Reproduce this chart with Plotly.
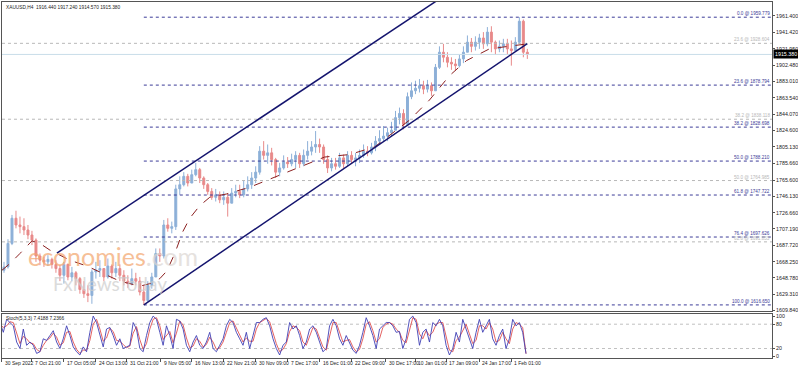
import plotly.graph_objects as go

# ---------------- DATA ----------------
header_text = "XAUUSD,H4  1916.440 1917.240 1914.570 1915.380"
stoch_text = "Stoch(5,3,3) 7.4188 7.2366"

first_open = 1658
close = [1662,1690,1720,1712,1710,1706,1700,1694,1675,1670,
         1668,1671,1665,1660,1652,1665,1650,1655,1648,1635,
         1630,1628,1656,1658,1660,1650,1663,1655,1660,1652,
         1645,1642,1648,1645,1632,1622,1640,1650,1678,1675,
         1712,1708,1710,1755,1760,1770,1762,1772,1778,1768,
         1760,1752,1745,1748,1742,1745,1738,1750,1752,1748,
         1755,1760,1768,1775,1800,1795,1798,1790,1775,1780,
         1787,1785,1790,1795,1785,1795,1800,1805,1808,1805,
         1790,1780,1785,1782,1792,1785,1795,1790,1792,1795,
         1800,1798,1805,1812,1815,1818,1822,1825,1840,1845,
         1832,1865,1872,1875,1878,1874,1878,1872,1900,1918,
         1912,1906,1904,1902,1910,1918,1930,1925,1930,1935,
         1928,1942,1930,1922,1925,1928,1922,1920,1930,1955,
         1918,1915.38]
high = [1668,1695,1724,1729,1722,1720,1712,1705,1696,1678,
        1674,1676,1673,1670,1664,1668,1666,1662,1657,1650,
        1645,1640,1659,1668,1670,1660,1672,1665,1668,1665,
        1658,1652,1660,1655,1650,1640,1645,1655,1684,1684,
        1718,1720,1716,1760,1770,1775,1773,1778,1786,1780,
        1770,1762,1756,1755,1752,1752,1750,1756,1760,1760,
        1765,1770,1775,1782,1806,1812,1808,1804,1792,1786,
        1795,1793,1797,1800,1798,1802,1812,1812,1824,1815,
        1808,1795,1792,1792,1798,1796,1800,1800,1798,1802,
        1808,1806,1810,1818,1825,1830,1828,1835,1848,1852,
        1850,1870,1882,1884,1886,1884,1885,1882,1904,1925,
        1928,1918,1912,1910,1915,1925,1938,1935,1937,1940,
        1942,1948,1949,1932,1932,1934,1934,1932,1936,1959.78,
        1957,1922]
low = [1655,1660,1688,1708,1702,1700,1695,1688,1668,1664,
       1662,1663,1660,1655,1645,1642,1646,1645,1640,1630,
       1625,1620,1618,1648,1650,1645,1648,1648,1650,1645,
       1640,1637,1640,1640,1628,1616.65,1620,1636,1650,1668,
       1672,1704,1702,1706,1748,1758,1758,1762,1770,1762,
       1755,1748,1742,1740,1738,1736,1722,1738,1745,1744,
       1745,1752,1755,1762,1772,1790,1785,1783,1768,1770,
       1778,1780,1782,1780,1780,1782,1790,1795,1798,1798,
       1785,1774,1776,1778,1780,1780,1782,1785,1782,1786,
       1792,1794,1796,1800,1808,1812,1812,1818,1825,1832,
       1826,1830,1862,1868,1870,1868,1870,1866,1872,1898,
       1906,1900,1897,1896,1900,1905,1918,1918,1920,1922,
       1922,1925,1918,1915,1918,1918,1915,1902,1920,1928,
       1912,1910]

ma_bar = [0,8,18,30,38,48,58,68,85,98,118,138,148,158,165,173,181,188,198,208,
          225,248,273,298,323,348,373,398,408,428,448,465,488,526]
ma_val = [1658,1666,1678,1693,1690,1682,1676,1670,1663,1656,1645,1639,1642,1648,
          1657,1678,1704,1720,1735,1745,1749,1757,1769,1781,1793,1796,1805,1828,
          1837,1861,1890,1908,1922,1928]

stoch_main = [84,60,92,84,76,36,20,68,28,36,
              28,8,12,44,40,52,64,36,20,44,
              76,52,24,12,4,24,12,60,100,84,
              52,24,68,72,52,28,44,20,24,28,
              84,68,20,12,52,84,100,92,60,28,
              76,52,20,92,88,68,28,12,36,52,
              28,20,36,60,20,12,28,44,76,92,
              84,60,44,28,60,20,52,84,84,92,
              96,76,44,20,4,28,36,84,68,76,
              52,20,36,68,76,60,36,12,20,76,
              92,76,44,28,52,32,16,8,28,60,
              96,76,52,20,68,76,84,84,76,60,
              62,20,44,92,100,84,28,60,68,36,
              84,76,92,76,28,4,20,60,36,92,
              68,44,20,60,92,60,76,92,44,28,
              52,68,20,44,92,76,84,60,7.4188]
stoch_signal = [80,72,76,86,84,60,32,50,44,34,
                32,18,12,28,40,46,58,48,28,34,
                60,62,36,18,8,16,16,40,80,92,
                68,38,46,70,62,40,38,30,22,26,
                58,74,42,18,32,68,92,96,76,42,
                52,62,34,58,88,78,46,22,26,44,
                38,24,30,48,36,18,22,36,60,84,
                88,72,52,36,46,38,38,68,84,88,
                94,86,58,32,12,18,32,62,76,72,
                64,36,28,52,72,68,48,24,16,48,
                84,84,60,36,40,42,24,12,18,44,
                80,86,64,36,44,72,80,84,80,68,
                60,40,34,68,96,92,56,44,64,52,
                60,80,84,84,52,16,12,40,48,64,
                80,56,32,40,76,76,68,84,68,36,
                40,60,44,32,68,84,80,72,7.2366]

fib_levels = ["0.0", "23.6", "38.2", "50.0", "61.8", "76.4", "100.0"]
fib_prices = [1959.779, 1878.794, 1828.698, 1788.210, 1747.722, 1697.626, 1616.650]
old_fib_levels = ["23.6", "38.2", "50.0", "61.8"]
old_fib_prices = [1928.604, 1838.118, 1764.985, 1691.853]
fib_start_bar = 142

chan_low_bar = [142, 526]
chan_low_price = [1616.65, 1928.4]
chan_up_bar = [55, 526]
chan_up_price = [1678.3, 2051.2]

price_ticks = [1609.840, 1629.310, 1648.780, 1668.250, 1687.720, 1707.190, 1726.660,
               1746.130, 1765.600, 1785.660, 1805.130, 1824.600, 1844.070, 1863.540,
               1883.010, 1902.480, 1921.950, 1941.420, 1961.400]
last_price = 1915.38

time_labels = ["30 Sep 2022", "7 Oct 21:00", "17 Oct 05:00", "24 Oct 13:00", "31 Oct 21:00",
               "9 Nov 05:00", "16 Nov 13:00", "22 Nov 21:00", "30 Nov 09:00", "7 Dec 17:00",
               "16 Dec 01:00", "22 Dec 09:00", "30 Dec 17:00", "10 Jan 01:00", "17 Jan 09:00",
               "24 Jan 17:00", "1 Feb 01:00"]
time_bars = [0, 30, 62, 94, 125, 159, 190, 222, 254, 286, 318, 350, 384, 414, 445, 478, 510]

# ---------------- STYLE / LAYOUT ----------------
W, H = 798, 372
X_RANGE = [0, 771]
BAR_STEP = 4
STOCH_STEP = 10 / 3
UP = "#8db0d8"
DN = "#e88a8a"
NAVY = "#14146e"
FIBC = "#3c3c98"
GREYC = "#b8b8b8"
AXC = "#555555"
TXT = "#222222"
FONT = "Liberation Sans, Arial"

cx = [2 + BAR_STEP * i for i in range(len(close))]
opens = [first_open] + close[:-1]
sx = [STOCH_STEP * j - 2 for j in range(len(stoch_main))]

fig = go.Figure()

for lv, pr in zip(old_fib_levels, old_fib_prices):
    fig.add_trace(go.Scatter(x=[X_RANGE[0], X_RANGE[1]], y=[pr, pr], mode="lines",
                             line=dict(color=GREYC, width=1, dash="dot"),
                             hoverinfo="skip", showlegend=False, xaxis="x", yaxis="y"))
for lv, pr in zip(fib_levels, fib_prices):
    fig.add_trace(go.Scatter(x=[fib_start_bar, X_RANGE[1]], y=[pr, pr], mode="lines",
                             line=dict(color=FIBC, width=1, dash="dot"),
                             hoverinfo="skip", showlegend=False, xaxis="x", yaxis="y"))
fig.add_trace(go.Scatter(x=[X_RANGE[0], X_RANGE[1]], y=[last_price, last_price], mode="lines",
                         line=dict(color="#c8dde9", width=1),
                         hoverinfo="skip", showlegend=False, xaxis="x", yaxis="y"))

fig.add_trace(go.Candlestick(x=cx, open=opens, high=high, low=low, close=close,
                             increasing=dict(line=dict(color=UP, width=1), fillcolor=UP),
                             decreasing=dict(line=dict(color=DN, width=1), fillcolor=DN),
                             whiskerwidth=0, hoverinfo="skip", showlegend=False,
                             xaxis="x", yaxis="y"))

fig.add_trace(go.Scatter(x=ma_bar, y=ma_val, mode="lines",
                         line=dict(color="#8b2020", width=1, dash="dash"),
                         hoverinfo="skip", showlegend=False, xaxis="x", yaxis="y"))

fig.add_trace(go.Scatter(x=chan_low_bar, y=chan_low_price, mode="lines",
                         line=dict(color=NAVY, width=1.5), hoverinfo="skip",
                         showlegend=False, xaxis="x", yaxis="y"))
fig.add_trace(go.Scatter(x=chan_up_bar, y=chan_up_price, mode="lines",
                         line=dict(color=NAVY, width=1.5), hoverinfo="skip",
                         showlegend=False, xaxis="x", yaxis="y"))

for lvl in (20, 80):
    fig.add_trace(go.Scatter(x=[X_RANGE[0], X_RANGE[1]], y=[lvl, lvl], mode="lines",
                             line=dict(color="#c0c0c0", width=1, dash="dot"),
                             hoverinfo="skip", showlegend=False, xaxis="x2", yaxis="y2"))
fig.add_trace(go.Scatter(x=sx, y=stoch_signal, mode="lines",
                         line=dict(color="#e05050", width=0.9),
                         hoverinfo="skip", showlegend=False, xaxis="x2", yaxis="y2"))
fig.add_trace(go.Scatter(x=sx, y=stoch_main, mode="lines",
                         line=dict(color="#4040b4", width=0.9),
                         hoverinfo="skip", showlegend=False, xaxis="x2", yaxis="y2"))

def px_to_paper_x(p):
    return p / W

def px_to_paper_y(p):
    return 1 - p / H

xdom = [px_to_paper_x(2), px_to_paper_x(773)]
main_dom = [px_to_paper_y(313), px_to_paper_y(1)]
stoch_dom = [px_to_paper_y(361), px_to_paper_y(316)]

ann = []
ann.append(dict(text=header_text, x=px_to_paper_x(4), y=px_to_paper_y(2), xref="paper", yref="paper",
                xanchor="left", yanchor="top", showarrow=False, font=dict(size=4.8, color=TXT, family=FONT)))
ann.append(dict(text=stoch_text, x=px_to_paper_x(4), y=px_to_paper_y(316), xref="paper", yref="paper",
                xanchor="left", yanchor="top", showarrow=False, font=dict(size=4.8, color=TXT, family=FONT)))
for lv, pr in zip(fib_levels, fib_prices):
    ann.append(dict(text=f"{lv} @ {pr:.3f}", x=X_RANGE[1] - 1, y=pr, xref="x", yref="y",
                    xanchor="right", yanchor="bottom", showarrow=False, borderpad=0,
                    font=dict(size=4.6, color=FIBC, family=FONT)))
for lv, pr in zip(old_fib_levels, old_fib_prices):
    ann.append(dict(text=f"{lv} @ {pr:.3f}", x=X_RANGE[1] - 1, y=pr, xref="x", yref="y",
                    xanchor="right", yanchor="bottom", showarrow=False, borderpad=0,
                    font=dict(size=4.6, color=GREYC, family=FONT)))
ann.append(dict(text=f"{last_price:.3f}", x=px_to_paper_x(774), y=last_price, xref="paper", yref="y",
                xanchor="left", yanchor="middle", showarrow=False, bgcolor="#000000", borderpad=1,
                font=dict(size=5.3, color="#ffffff", family=FONT)))
for lab, b in zip(time_labels, time_bars):
    ann.append(dict(text=lab, x=b, y=px_to_paper_y(366), xref="x2", yref="paper",
                    xanchor="left", yanchor="middle", xshift=1, showarrow=False,
                    font=dict(size=5, color=TXT, family=FONT)))
ann.append(dict(text="economies<span style='color:#dcd6d2'>.com</span>", x=111, y=1675,
                xref="x", yref="y", showarrow=False, opacity=0.7,
                font=dict(size=25, color="#f3a56c", family="Lato, Open Sans")))
ann.append(dict(text="FxNewsToday", x=108, y=1642, xref="x", yref="y", showarrow=False,
                opacity=0.7, font=dict(size=19, color="#cdcdcd", family="Lato, Open Sans")))

axis_common = dict(showgrid=False, zeroline=False, showline=True, mirror=True,
                   linecolor=AXC, linewidth=1)

fig.update_layout(
    width=W, height=H, margin=dict(l=0, r=0, t=0, b=0),
    paper_bgcolor="#ffffff", plot_bgcolor="#ffffff",
    showlegend=False, annotations=ann,
    xaxis=dict(domain=xdom, range=X_RANGE, anchor="y", showticklabels=False, ticks="",
               rangeslider=dict(visible=False), **axis_common),
    yaxis=dict(domain=main_dom, range=[1609.84, 1977.92], anchor="x", side="right",
               tickvals=price_ticks, ticktext=[f"{v:.3f}" for v in price_ticks],
               ticks="outside", ticklen=2, tickcolor=AXC,
               tickfont=dict(size=5.3, color=TXT, family=FONT), **axis_common),
    xaxis2=dict(domain=xdom, range=X_RANGE, anchor="y2", matches="x",
                tickvals=time_bars, ticktext=["" for _ in time_bars], ticks="outside",
                ticklen=3, tickcolor=AXC, rangeslider=dict(visible=False), **axis_common),
    yaxis2=dict(domain=stoch_dom, range=[-3.66, 106.1], anchor="x2", side="right",
                tickvals=[0, 20, 80, 100], ticktext=["0", "20", "80", "100"],
                ticks="outside", ticklen=2, tickcolor=AXC,
                tickfont=dict(size=5.3, color=TXT, family=FONT), **axis_common),
)

fig.write_html("out.html", config={"displayModeBar": False})
